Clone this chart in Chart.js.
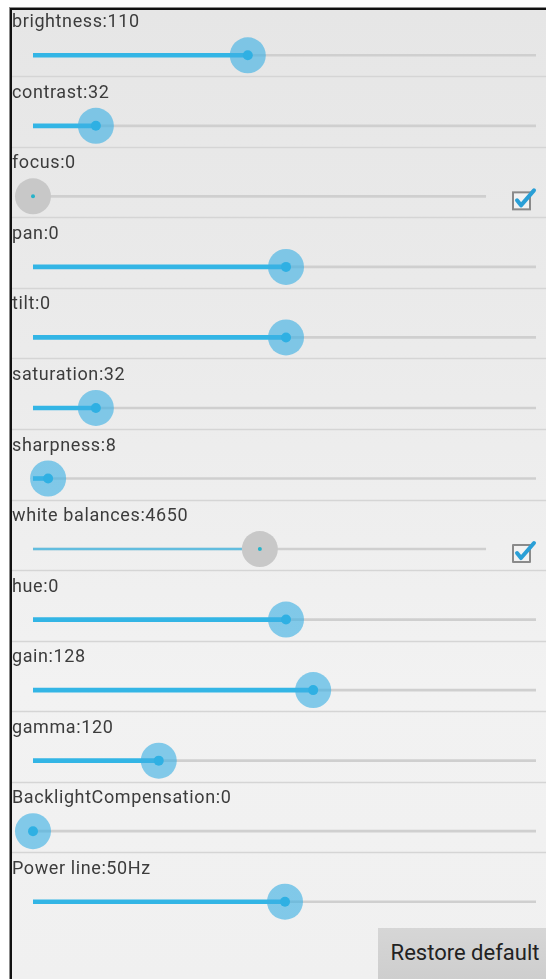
<!DOCTYPE html>
<html>
<head>
<meta charset="utf-8">
<script src="https://cdn.jsdelivr.net/npm/chart.js@4.4.1/dist/chart.umd.min.js"></script>
<style>
  html, body { margin: 0; padding: 0; background: #fff; }
  body { width: 546px; height: 979px; position: relative; overflow: hidden; font-family: Roboto, sans-serif; }
  #outer { position: absolute; left: 9px; top: 7px; right: 0; bottom: 0;
           border-top: 1px solid #8c8c8c; border-left: 1px solid #8c8c8c; }
  #frame { position: absolute; left: 0; top: 0; right: 0; bottom: 0;
           border-top: 2px solid #111; border-left: 2px solid #111;
           background: linear-gradient(180deg, #e6e6e6 0%, #ebebeb 35%, #f2f2f2 70%, #f0f0f0 100%); }
  #chart-result { position: absolute; left: 0; top: 0; }
  #restore { position: absolute; left: 378px; top: 928px; width: 162px; height: 51px; padding-left: 6px;
             background: linear-gradient(180deg, #d6d6d6, #cecece); color: #222;
             font: 22px Roboto, sans-serif; line-height: 49px; text-align: center; }
</style>
</head>
<body>
<div id="outer"><div id="frame"></div></div>
<canvas id="chart-result" width="546" height="979"></canvas>
<div id="restore">Restore default</div>
<script>
// controls, top to bottom
const names = ['brightness', 'contrast', 'focus', 'pan', 'tilt', 'saturation', 'sharpness',
               'white balances', 'hue', 'gain', 'gamma', 'BacklightCompensation', 'Power line'];
const shown = ['110', '32', '0', '0', '0', '32', '8', '4650', '0', '128', '120', '0', '50Hz'];
// thumb position, % of the slider track
const pos = [42.7, 12.5, 0, 50.3, 50.3, 12.5, 3.0, 45.1, 50.3, 55.7, 25.0, 0, 50.1];
// track length, % (rows with an "auto" checkbox are shorter)
const trackLen = [100, 100, 90, 100, 100, 100, 100, 90, 100, 100, 100, 100, 100];
const auto = [false, false, true, false, false, false, false, true, false, false, false, false, false];

const BLUE = '#33b5e5';

const sliderDecor = {
  id: 'sliderDecor',
  beforeDatasetsDraw(chart) {
    const c = chart.ctx, y = chart.scales.y;
    c.save();
    c.strokeStyle = '#d5d5d5';
    c.lineWidth = 1.5;
    names.forEach((n, i) => {
      if (i === names.length - 1) return;
      const py = Math.round(y.getPixelForValue(i) + 21) + 0.5;
      c.beginPath(); c.moveTo(12, py); c.lineTo(546, py); c.stroke();
    });
    c.restore();
  },
  afterDatasetsDraw(chart) {
    const c = chart.ctx, y = chart.scales.y;
    c.save();
    c.font = '18px Roboto, sans-serif';
    c.letterSpacing = '0.6px';
    c.textBaseline = 'alphabetic';
    names.forEach((n, i) => {
      const py = y.getPixelForValue(i);
      c.fillStyle = '#3c3c3c';
      c.fillText(n + ':' + shown[i], 12, py - 28);
      if (auto[i]) {
        const bx = 513, by = py - 4;
        c.fillStyle = '#f2f2f2';
        c.fillRect(bx, by, 17, 17);
        c.strokeStyle = '#8a8a8a';
        c.lineWidth = 2;
        c.strokeRect(bx, by, 17, 17);
        c.strokeStyle = '#2a9fd6';
        c.lineWidth = 4;
        c.lineCap = 'round';
        c.lineJoin = 'round';
        c.beginPath();
        c.moveTo(bx + 4, by + 8);
        c.lineTo(bx + 8, by + 13);
        c.lineTo(bx + 21, by - 2);
        c.stroke();
      }
    });
    c.restore();
  }
};

new Chart(document.getElementById('chart-result'), {
  type: 'bar',
  data: {
    labels: names,
    datasets: [
      {
        label: 'track',
        data: trackLen,
        backgroundColor: '#cfcfcf',
        barThickness: 2,
        grouped: false,
        order: 4
      },
      {
        label: 'value',
        data: pos.map((v, i) => auto[i] ? null : v),
        backgroundColor: BLUE,
        barThickness: 4,
        grouped: false,
        order: 3
      },
      {
        label: 'value (auto)',
        data: pos.map((v, i) => auto[i] ? v : null),
        backgroundColor: 'rgba(51,181,229,0.7)',
        barThickness: 2,
        grouped: false,
        order: 3
      },
      {
        type: 'line',
        label: 'thumb',
        indexAxis: 'y',
        data: pos,
        showLine: false,
        clip: false,
        pointRadius: 18,
        pointHoverRadius: 18,
        pointBorderWidth: 0,
        pointBackgroundColor: auto.map(a => a ? '#c8c8c8' : 'rgba(60,176,228,0.62)'),
        order: 2
      },
      {
        type: 'line',
        label: 'thumb centre',
        indexAxis: 'y',
        data: pos,
        showLine: false,
        clip: false,
        pointRadius: auto.map(a => a ? 2 : 5),
        pointHoverRadius: auto.map(a => a ? 2 : 5),
        pointBorderWidth: 0,
        pointBackgroundColor: auto.map(a => a ? '#27b3c9' : '#2fb0e3'),
        order: 1
      }
    ]
  },
  options: {
    indexAxis: 'y',
    responsive: false,
    animation: false,
    layout: { autoPadding: false, padding: { left: 33, right: 10, top: 20, bottom: 42 } },
    scales: {
      x: { display: false, min: 0, max: 100 },
      y: { display: false }
    },
    plugins: {
      legend: { display: false },
      tooltip: { enabled: false }
    }
  },
  plugins: [sliderDecor]
});
</script>
</body>
</html>
